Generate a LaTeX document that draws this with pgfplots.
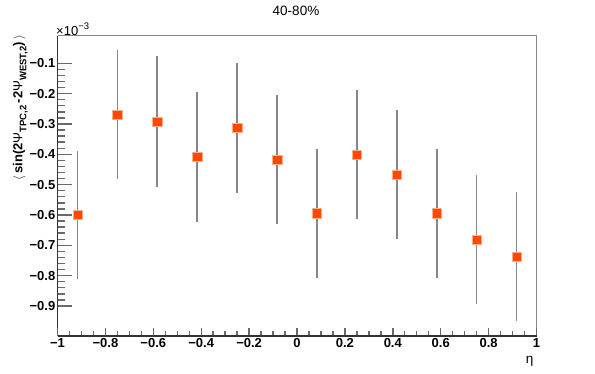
\documentclass[border=0pt]{standalone}
\usepackage{fontspec}
\setmainfont{Liberation Sans}
\usepackage{pgfplots}
\pgfplotsset{compat=1.18}
\usepackage{pgfplotstable}
\definecolor{mk}{RGB}{255,72,0}
\definecolor{eb}{RGB}{135,135,135}
\definecolor{tk}{RGB}{105,105,105}
\pgfplotstableread{
x y e
-0.9167 -0.599 0.211
-0.75 -0.269 0.214
-0.5833 -0.292 0.215
-0.4167 -0.408 0.214
-0.25 -0.312 0.214
-0.0833 -0.417 0.212
0.0833 -0.595 0.214
0.25 -0.401 0.213
0.4167 -0.467 0.213
0.5833 -0.595 0.214
0.75 -0.681 0.213
0.9167 -0.737 0.213
}\datatable
\newcommand{\tfont}{\fontsize{13}{15}\selectfont}
\newcommand{\hfont}{\fontsize{13.5}{15}\selectfont}
\begin{document}
\begin{tikzpicture}
\useasboundingbox (0pt,0pt) rectangle (595pt,374pt);
% axis with y ticks and data
\begin{axis}[at={(57.5pt,38pt)}, anchor=south west, scale only axis,
  width=479pt, height=300.3pt,
  xmin=-1, xmax=1, ymin=-0.999, ymax=-0.009,
  clip=false,
  axis x line*=bottom, axis y line*=left,
  axis line style={line width=1.6pt, color=black!80},
  xtick=\empty,
  ytick={-0.9,-0.8,-0.7,-0.6,-0.5,-0.4,-0.3,-0.2,-0.1},
  yticklabels={−0.9,−0.8,−0.7,−0.6,−0.5,−0.4,−0.3,−0.2,−0.1},
  minor y tick num=4,
  major tick length=14pt, minor tick length=7pt,
  tick align=inside,
  every tick/.style={line width=1.4pt, color=tk},
  yticklabel style={font=\tfont\bfseries, inner sep=2pt},
]
\draw[line width=1.6pt, color=eb] (rel axis cs:0,1) -- (rel axis cs:1,1) -- (rel axis cs:1,0);
\addplot[only marks, mark=square*, mark size=4.7pt, mark options={fill=mk, draw=mk!45, line width=0.5pt},
  error bars/.cd, y dir=both, y explicit,
  error bar style={line width=1.7pt, color=eb}, error mark=none]
  table[x=x, y=y, y error=e] {\datatable};
\end{axis}
% axis with x ticks
\begin{axis}[at={(57.5pt,38pt)}, anchor=south west, scale only axis,
  width=479pt, height=300.3pt,
  xmin=-1, xmax=1, ymin=-0.999, ymax=-0.009,
  axis x line*=bottom, hide y axis,
  axis line style={line width=1.6pt, color=black!80},
  xtick={-1,-0.8,-0.6,-0.4,-0.2,0,0.2,0.4,0.6,0.8,1},
  xticklabels={−1,−0.8,−0.6,−0.4,−0.2,0,0.2,0.4,0.6,0.8,1},
  minor x tick num=3,
  major tick length=8pt, minor tick length=4.5pt,
  tick align=inside,
  every tick/.style={line width=1.4pt, color=tk},
  xticklabel style={font=\tfont\bfseries, inner sep=2pt},
]
\end{axis}
\node[anchor=base, font=\hfont] at (296pt,358pt) {40-80\%};
\node[anchor=base east, font=\hfont] at (537pt,10pt) {η};
\node[anchor=base west, font=\tfont, inner sep=0pt] at (56pt,338.5pt) {×10\raisebox{0.9ex}{\fontsize{9.5}{10}\selectfont −3}};
\node[rotate=90, anchor=base east, inner sep=0pt, font=\fontsize{13}{15}\selectfont\bfseries] at (22.5pt,339pt)
  {$\langle$\,sin(2\textmd{Ψ}\raisebox{-0.55ex}{\fontsize{9.5}{10}\selectfont TPC,2}\,-2\textmd{Ψ}\raisebox{-0.55ex}{\fontsize{9.5}{10}\selectfont WEST,2})\,$\rangle$};
\end{tikzpicture}
\end{document}
